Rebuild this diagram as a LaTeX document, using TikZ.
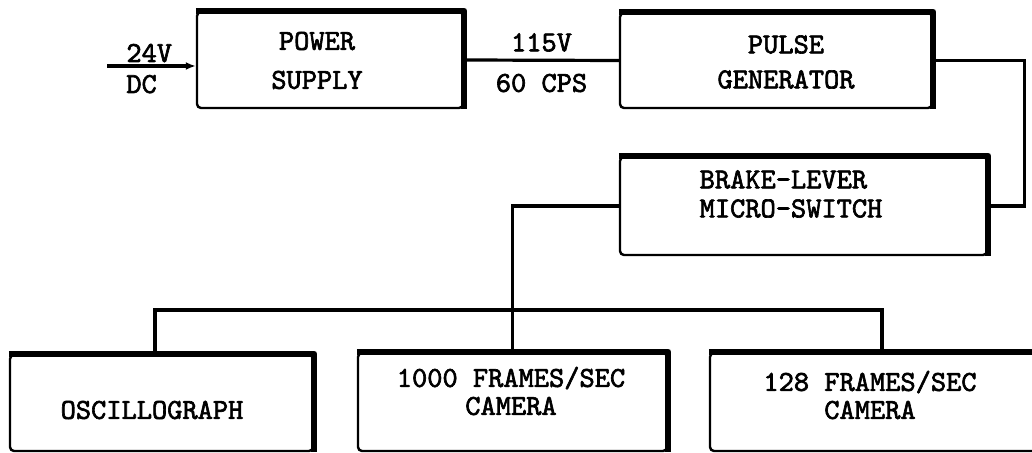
\documentclass[tikz,border=0pt]{standalone}
\usepackage{fontspec}
\newfontfamily\typer{lmmono10-regular.otf}[AutoFakeBold=2.2]
\usetikzlibrary{arrows.meta}
\begin{document}
\begin{tikzpicture}[
  x=0.5pt, y=-0.5pt,
  unit/.style={rectangle, draw, line width=1.2pt, rounded corners=2pt, inner sep=0pt},
  rim/.style={line width=3pt, line join=round},
  txt/.style={font=\typer\bfseries\fontsize{14.5}{14}\selectfont, align=center, inner sep=0pt},
  lbl/.style={font=\typer\bfseries\fontsize{14.5}{14}\selectfont, inner sep=1.5pt},
  conn/.style={line width=1.6pt},
  tip/.style={-{Latex[length=5pt,width=4pt]}}
]
\useasboundingbox (0,0) rectangle (1032,453);
\clip (0,0) rectangle (1032,453);

% Top row
\node[unit, minimum width=133pt, minimum height=48pt] (power) at (330,60) {};
\node[unit, minimum width=156pt, minimum height=47.5pt] (pulse) at (776,60.5) {};
\node[txt] (power-t) at (317,60.5) {POWER\\[5.5pt]SUPPLY};
\node[txt] (pulse-t) at (786,62) {PULSE\\[3.5pt]GENERATOR};

% Switch
\node[unit, minimum width=183.5pt, minimum height=49pt] (brake) at (803.5,206) {};
\node[txt, align=left] (brake-t) at (791,194) {BRAKE-LEVER\\[0.5pt]MICRO-SWITCH};

% Recorders
\node[unit, minimum width=151.5pt, minimum height=48pt] (osc) at (161.5,403) {};
\node[unit, minimum width=154.5pt, minimum height=49pt] (fast) at (512.5,402) {};
\node[unit, minimum width=167.5pt, minimum height=49pt] (slow) at (877.5,402) {};
\node[txt] (osc-t) at (152,410) {OSCILLOGRAPH};
\node[txt] (fast-t) at (511,391) {1000 FRAMES/SEC\\CAMERA};
\node[txt] (slow-t) at (870,395) {128 FRAMES/SEC\\CAMERA};

% Heavy top and right edges
\foreach \b in {power,pulse,brake,osc,fast,slow}
  \draw[rim] (\b.north west) -- (\b.north east) -- (\b.south east);

% Supply lines
\coordinate (in) at (107,66);
\draw[conn, tip] (in) -- (in -| power.west);
\node[lbl, anchor=base west] (v24) at (123,62) {24V};
\node[lbl, anchor=base west] (vdc) at (123,93) {DC};
\draw[conn] (power.east) -- node[lbl, above=2pt] (v115) {115V}
  node[lbl, below=4.5pt] (cps) {60 CPS} (pulse.west);

% Pulse to switch to recorders
\draw[conn] (pulse.east) -- ++(91,0) |- (brake.east);
\draw[conn] (brake.west) -| (fast.north);
\coordinate (busL) at (155,310);
\coordinate (busR) at (882,310);
\draw[conn] (osc.north -| busL) -- (busL) -- (busR) -- (slow.north -| busR);

\end{tikzpicture}
\end{document}
